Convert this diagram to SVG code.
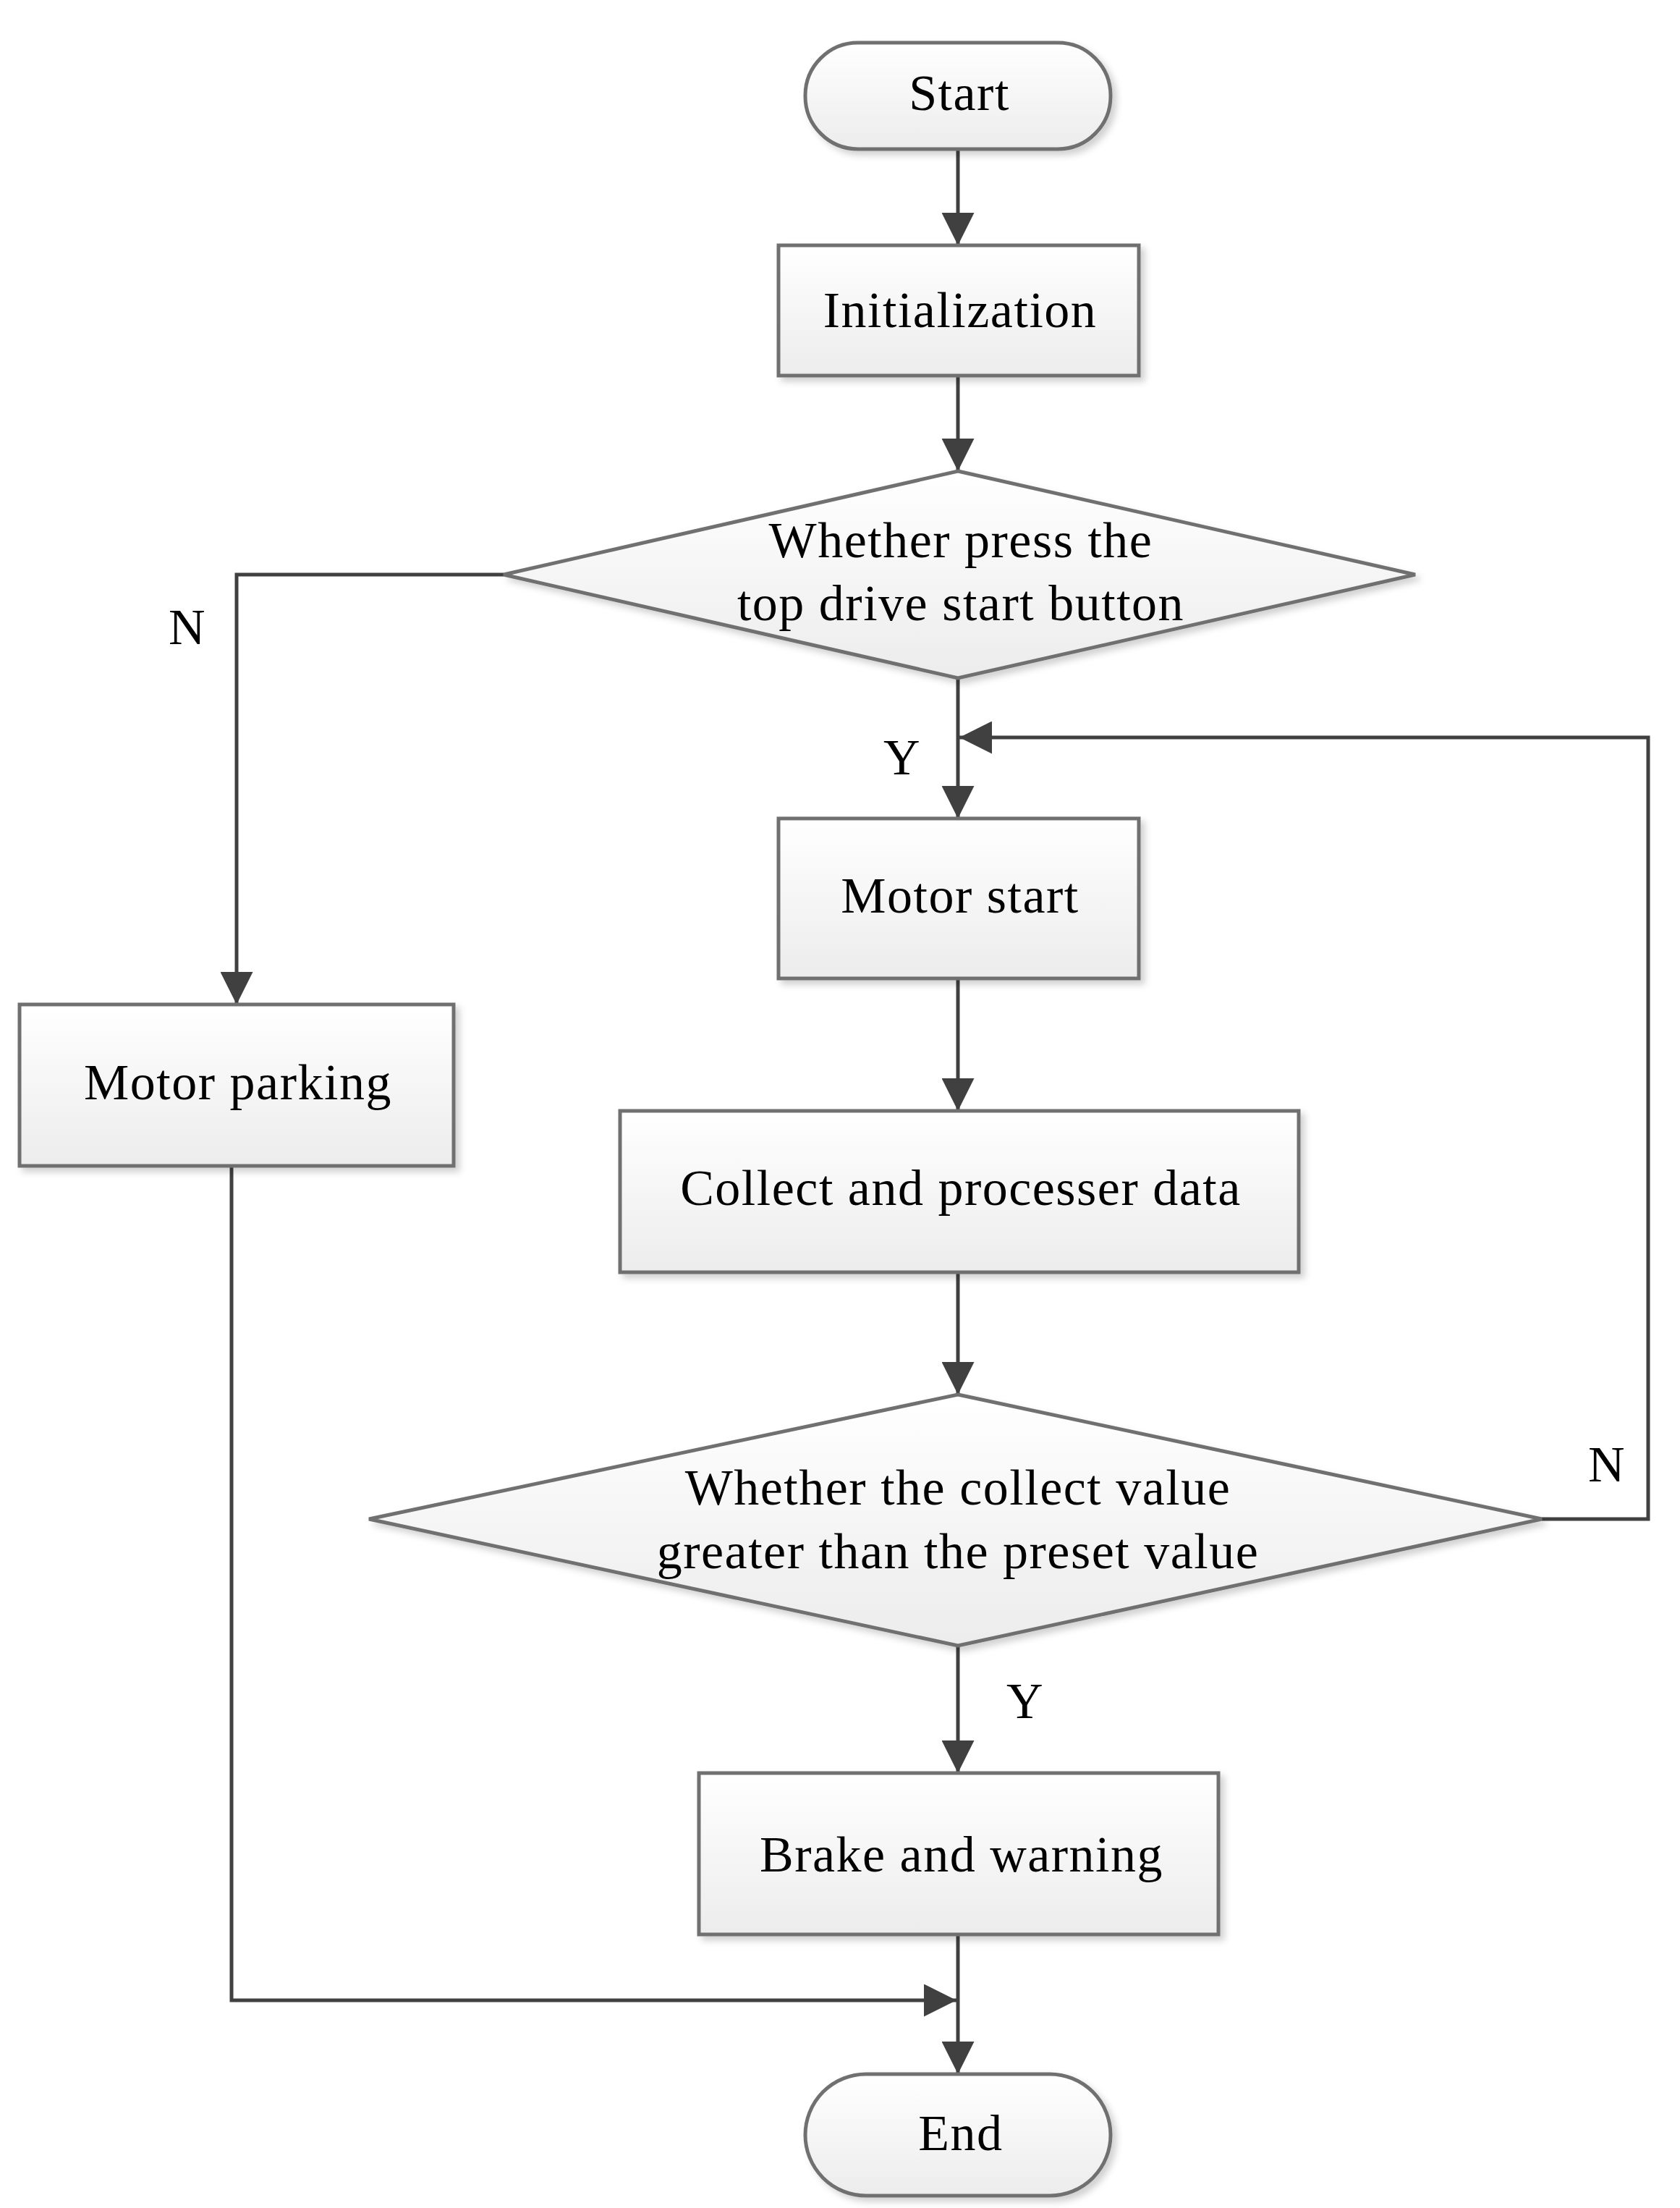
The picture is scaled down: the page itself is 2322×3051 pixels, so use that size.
<svg xmlns="http://www.w3.org/2000/svg" width="2322" height="3051" viewBox="0 0 2322 3051">
<defs>
<linearGradient id="g" x1="0" y1="0" x2="0" y2="1"><stop offset="0" stop-color="#ffffff"/><stop offset="1" stop-color="#ececec"/></linearGradient>
<filter id="sh" x="-10%" y="-10%" width="130%" height="130%"><feDropShadow dx="6" dy="6" stdDeviation="5" flood-color="#000" flood-opacity="0.18"/></filter>
<marker id="a" viewBox="0 0 10 10" refX="10" refY="5" markerWidth="9" markerHeight="9" orient="auto"><path d="M0,0 L10,5 L0,10 z" fill="#404040"/></marker>
</defs>
<style>
.n{fill:url(#g);stroke:#707070;stroke-width:5;filter:url(#sh)}
.t{font-family:'Liberation Serif','Times New Roman','DejaVu Serif',serif;font-size:70px;letter-spacing:1.5px;fill:#000;text-anchor:middle}
.c{fill:none;stroke:#404040;stroke-width:5;marker-end:url(#a)}
</style>
<rect width="2322" height="3051" fill="#fff"/>
<g id="connectors">
<path class="c" d="M1324,206 V339"/>
<path class="c" d="M1324,519 V651"/>
<path class="c" d="M1324,937 V1131"/>
<path class="c" d="M696,794 H327 V1388"/>
<path class="c" d="M1324,1352 V1535"/>
<path class="c" d="M1324,1758 V1927"/>
<path class="c" d="M2131,2099 H2278 V1019 H1326"/>
<path class="c" d="M1324,2274 V2450"/>
<path class="c" d="M1324,2673 V2866"/>
<path class="c" d="M320,1611 V2764 H1322"/>
</g>
<g id="start"><rect class="n" x="1113" y="59" width="422" height="147" rx="73"/><text class="t" x="1326" y="152">Start</text></g>
<g id="init"><rect class="n" x="1076" y="339" width="498" height="180"/><text class="t" x="1327" y="452">Initialization</text></g>
<g id="d1"><polygon class="n" points="1324,651 1956,794 1324,937 696,794"/><text class="t" x="1328" y="770">Whether press the</text><text class="t" x="1328" y="857">top drive start button</text></g>
<g id="parking"><rect class="n" x="27" y="1388" width="600" height="223"/><text class="t" x="329" y="1519">Motor parking</text></g>
<g id="mstart"><rect class="n" x="1076" y="1131" width="498" height="221"/><text class="t" x="1327" y="1261">Motor start</text></g>
<g id="collect"><rect class="n" x="857" y="1535" width="938" height="223"/><text class="t" x="1328" y="1665">Collect and processer data</text></g>
<g id="d2"><polygon class="n" points="1324,1927 2131,2099 1324,2274 510,2099"/><text class="t" x="1324" y="2079">Whether the collect value</text><text class="t" x="1324" y="2167">greater than the preset value</text></g>
<g id="brake"><rect class="n" x="966" y="2450" width="718" height="223"/><text class="t" x="1329" y="2586">Brake and warning</text></g>
<g id="end"><rect class="n" x="1113" y="2866" width="422" height="168" rx="84"/><text class="t" x="1328" y="2971">End</text></g>
<g id="labels">
<text class="t" x="259" y="890">N</text>
<text class="t" x="1247" y="1070">Y</text>
<text class="t" x="2221" y="2047">N</text>
<text class="t" x="1417" y="2374">Y</text>
</g>
</svg>
